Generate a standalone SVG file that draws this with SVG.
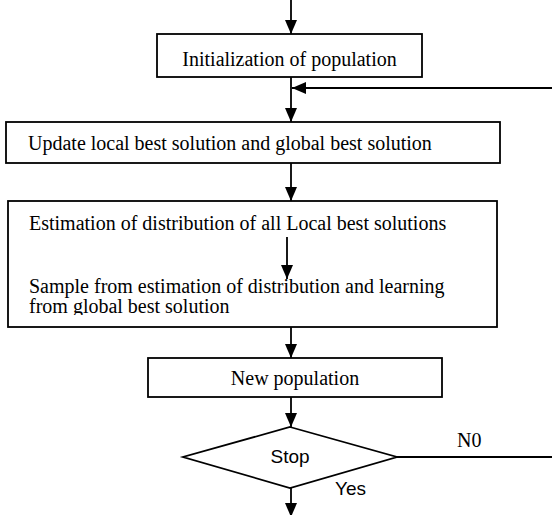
<svg xmlns="http://www.w3.org/2000/svg" width="552" height="515" viewBox="0 0 552 515">
<style>
.box{fill:#fff;stroke:#000;stroke-width:1.8}
.ln{fill:none;stroke:#000;stroke-width:1.8}
.t{font-family:"Liberation Serif","Times New Roman",serif;font-size:20px;fill:#000}
.s{font-family:"Liberation Sans",Arial,sans-serif;font-size:19px;fill:#000}
</style>
<defs>
<marker id="ah" markerUnits="userSpaceOnUse" markerWidth="15" markerHeight="13" refX="14" refY="6.5" orient="auto" viewBox="0 0 15 13">
<path d="M0,0.5 L14,6.5 L0,12.5 z" fill="#000"/>
</marker>
<clipPath id="clipEst"><rect x="0" y="200" width="552" height="115"/></clipPath>
</defs>
<g id="connectors">
<line class="ln" x1="291" y1="0" x2="291" y2="34" marker-end="url(#ah)"/>
<line class="ln" x1="291" y1="77" x2="291" y2="122" marker-end="url(#ah)"/>
<line class="ln" x1="552" y1="88" x2="292" y2="88" marker-end="url(#ah)"/>
<line class="ln" x1="291" y1="163" x2="291" y2="201" marker-end="url(#ah)"/>
<line class="ln" x1="291" y1="327" x2="291" y2="358" marker-end="url(#ah)"/>
<line class="ln" x1="291" y1="397" x2="291" y2="427" marker-end="url(#ah)"/>
<line class="ln" x1="397" y1="457" x2="552" y2="457"/>
<line class="ln" x1="291" y1="488" x2="291" y2="517" marker-end="url(#ah)"/>
<text class="t" x="457" y="447">N0</text>
<text class="s" x="335" y="495">Yes</text>
</g>
<g id="init">
<rect class="box" x="157" y="34" width="265" height="43"/>
<text class="t" x="289.5" y="66" text-anchor="middle">Initialization of population</text>
</g>
<g id="update">
<rect class="box" x="6" y="122" width="494" height="41"/>
<text class="t" x="28" y="150">Update local best solution and global best solution</text>
</g>
<g id="estimation">
<rect class="box" x="8" y="201" width="489" height="126"/>
<text class="t" x="29" y="230">Estimation of distribution of all Local best solutions</text>
<line class="ln" x1="287" y1="237" x2="287" y2="279" marker-end="url(#ah)"/>
<text class="t" x="29" y="293">Sample from estimation of distribution and learning</text>
<text class="t" x="29" y="313" clip-path="url(#clipEst)">from global best solution</text>
</g>
<g id="newpop">
<rect class="box" x="148" y="358" width="294" height="39"/>
<text class="t" x="295" y="385" text-anchor="middle">New population</text>
</g>
<g id="stop">
<polygon class="box" points="290,427 397,457 290,488 183,457"/>
<text class="s" x="290" y="463" text-anchor="middle">Stop</text>
</g>
</svg>
